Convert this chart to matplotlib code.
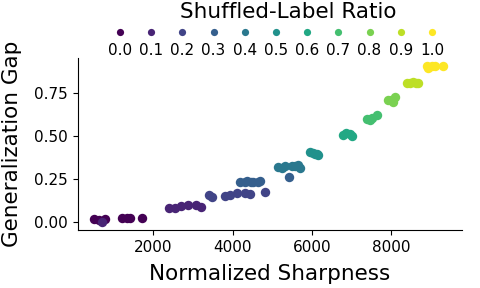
import matplotlib
matplotlib.use("Agg")
import matplotlib.pyplot as plt
from matplotlib.lines import Line2D
from matplotlib.offsetbox import VPacker
import numpy as np

# shuffled-label ratio -> (normalized sharpness, generalization gap) per run
ratios = [0.0, 0.1, 0.2, 0.3, 0.4, 0.5, 0.6, 0.7, 0.8, 0.9, 1.0]
sharp = [
    [500, 620, 778, 1200, 1326, 1409, 1705],
    [694, 2394, 2545, 2697, 2874, 3076, 3202],
    [3404, 3480, 3808, 3934, 4111, 4313, 4439, 4818],
    [4187, 4300, 4356, 4470, 4523, 4640, 4692, 5432],
    [5154, 5240, 5323, 5492, 5580, 5659, 5702],
    [5955, 6030, 6080, 6124, 6157],
    [6795, 6864, 6965, 7015],
    [7386, 7470, 7520, 7639],
    [7932, 8000, 8051, 8101],
    [8396, 8480, 8556, 8640, 8689],
    [8902, 8934, 9028, 9111, 9321],
]
gap = [
    [0.019, 0.015, 0.019, 0.023, 0.023, 0.023, 0.023],
    [0.000, 0.085, 0.086, 0.095, 0.103, 0.098, 0.092],
    [0.159, 0.147, 0.155, 0.159, 0.169, 0.169, 0.163, 0.178],
    [0.236, 0.232, 0.242, 0.235, 0.236, 0.234, 0.242, 0.262],
    [0.320, 0.315, 0.327, 0.327, 0.329, 0.333, 0.314],
    [0.410, 0.403, 0.398, 0.397, 0.394],
    [0.508, 0.519, 0.513, 0.502],
    [0.599, 0.595, 0.606, 0.624],
    [0.711, 0.711, 0.701, 0.730],
    [0.808, 0.810, 0.817, 0.808, 0.808],
    [0.905, 0.897, 0.905, 0.905, 0.905],
]

cmap = plt.get_cmap("viridis")
colors = [cmap(r) for r in ratios]

fig = plt.figure(figsize=(4.8, 2.88), dpi=100)
ax = fig.add_axes([0.162, 0.201, 0.8, 0.598])

for r, xs, ys, c in zip(ratios, sharp, gap, colors):
    ax.scatter(xs, ys, s=46, color=c, linewidths=0, zorder=2)

ax.set_xlim(88, 9785)
ax.set_ylim(-0.045, 0.955)
ax.set_xticks([2000, 4000, 6000, 8000])
ax.set_yticks([0, 0.25, 0.5, 0.75])
ax.set_yticklabels(["0.00", "0.25", "0.50", "0.75"])
ax.tick_params(labelsize=11)
ax.spines["top"].set_visible(False)
ax.spines["right"].set_visible(False)
ax.set_xlabel("Normalized Sharpness", fontsize=15.5, labelpad=6.5)
ax.set_ylabel("Generalization Gap", fontsize=15.5, labelpad=8.5)

handles = [Line2D([], [], marker="o", linestyle="none", markersize=5.2,
                  markerfacecolor=c, markeredgewidth=0) for c in colors]
labels = ["%.1f" % r for r in ratios]
leg = fig.legend(handles, labels, ncol=11, loc="center", bbox_to_anchor=(0.575, 0.853),
                 frameon=False, fontsize=11, handlelength=1, handletextpad=0,
                 columnspacing=0.46, borderpad=0, borderaxespad=0)
# stack each marker above its label
for col in leg._legend_handle_box.get_children():
    col._children = [VPacker(pad=0, sep=4, children=row.get_children(), align="center")
                     for row in col.get_children()]

fig.text(0.6, 0.958, "Shuffled-Label Ratio", fontsize=15.5, ha="center", va="center")

fig.savefig("out.png", dpi=100)
